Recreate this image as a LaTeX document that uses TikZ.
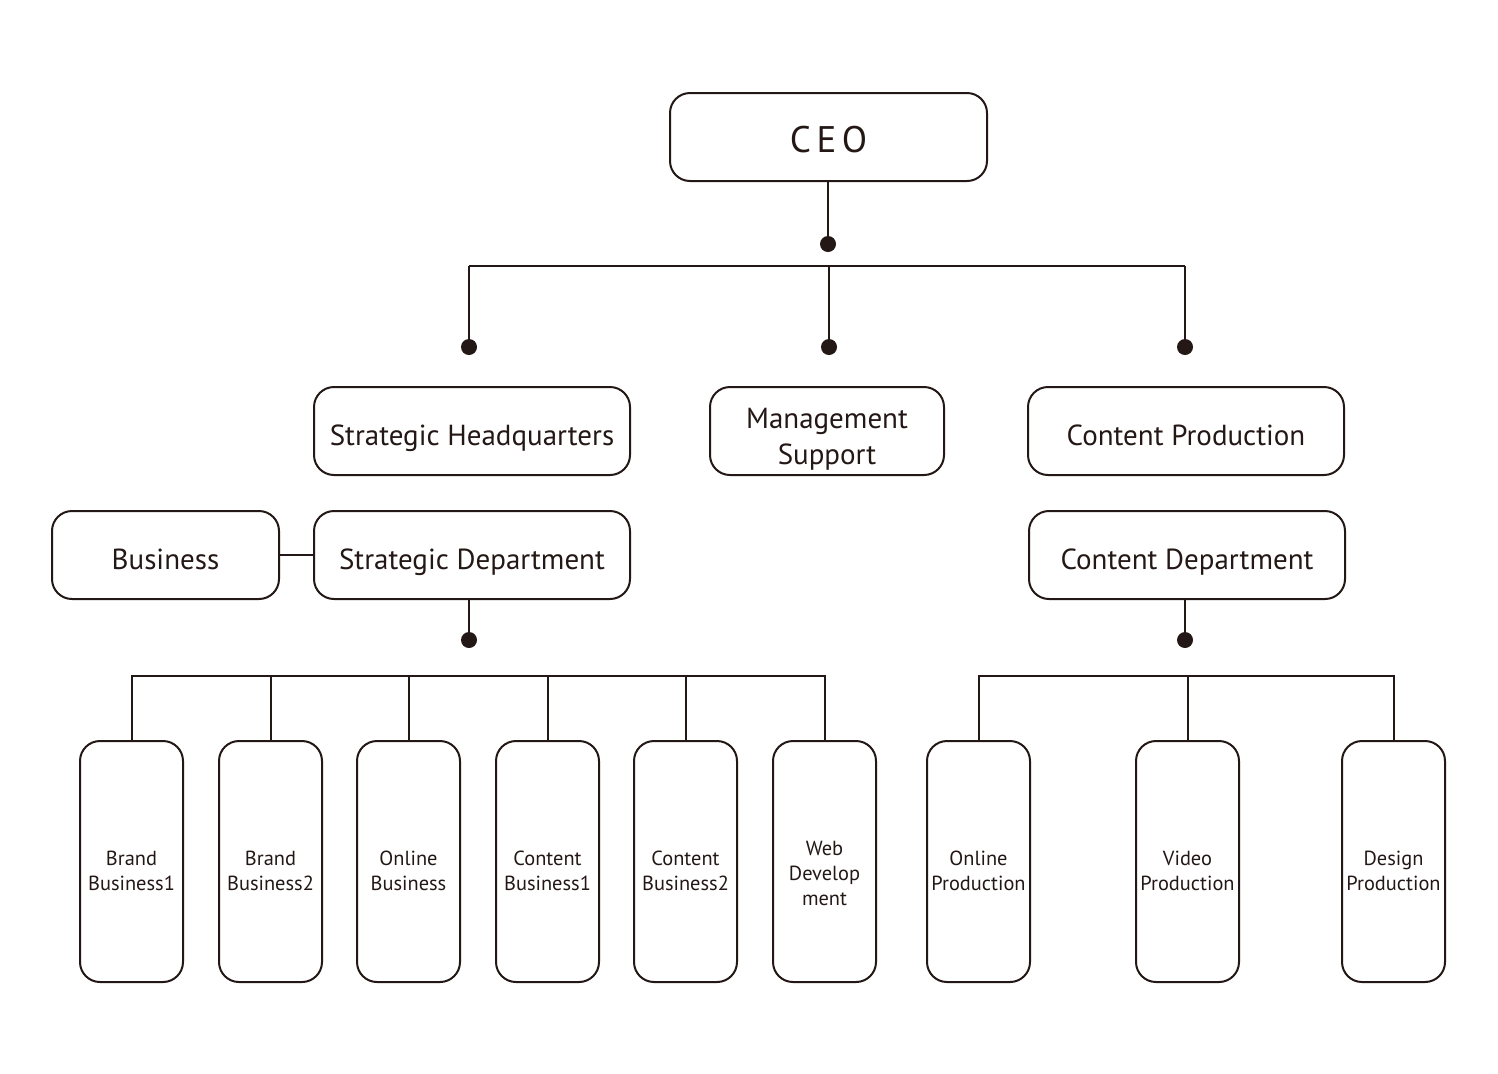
\documentclass[tikz,border=0pt]{standalone}
\usepackage{fontspec}
\setmainfont{PT Sans}
\definecolor{ink}{HTML}{231815}
\begin{document}
\begin{tikzpicture}[x=0.5pt,y=-0.5pt,
  box/.style={draw=ink, line width=1pt, rounded corners=10pt, align=center, inner sep=0pt, text=ink},
  wide/.style={box, minimum width=158pt, minimum height=44pt, font=\fontsize{14.5}{18}\selectfont, text height=16pt, text depth=2pt},
  tall/.style={box, minimum width=51.5pt, minimum height=120.5pt, font=\fontsize{10.2}{12.5}\selectfont, text height=29pt, text depth=0pt},
  tallthree/.style={tall, text height=43.5pt},
  conn/.style={draw=ink, line width=1pt},
  blob/.style={fill=ink, circle, inner sep=0pt, minimum size=8pt}]
\path[use as bounding box] (0,0) rectangle (1498,1073);
% nodes
\node[wide, minimum width=158.5pt, font=\fontsize{18.5}{22}\selectfont\addfontfeatures{LetterSpace=15}, text height=15pt, text depth=0pt] (ceo) at (828.5,137) {CEO};
\node[wide] (sh) at (472,431) {Strategic Headquarters};
\node[wide, minimum width=117pt, text height=36pt, text depth=3pt] (ms) at (827,431) {Management\\Support};
\node[wide] (cp) at (1186,431) {Content Production};
\node[wide, minimum width=113.5pt] (biz) at (165.5,555) {Business};
\node[wide] (sd) at (472,555) {Strategic Department};
\node[wide] (cd) at (1187,555) {Content Department};
\node[tall] (b1) at (131.5,861.5) {Brand\\Business1};
\node[tall] (b2) at (270.5,861.5) {Brand\\Business2};
\node[tall] (b3) at (408.5,861.5) {Online\\Business};
\node[tall] (b4) at (547.5,861.5) {Content\\Business1};
\node[tall] (b5) at (685.5,861.5) {Content\\Business2};
\node[tallthree] (b6) at (824.5,861.5) {Web\\Develop\\ment};
\node[tall] (c1) at (978.5,861.5) {Online\\Production};
\node[tall] (c2) at (1187.5,861.5) {Video\\Production};
\node[tall] (c3) at (1393.5,861.5) {Design\\Production};
% dots
\node[blob] (d0) at (828,244) {};
\node[blob] (d1) at (469,347) {};
\node[blob] (d2) at (829,347) {};
\node[blob] (d3) at (1185,347) {};
\node[blob] (d4) at (469,640) {};
\node[blob] (d5) at (1185,640) {};
\coordinate (j1) at (469,266);
\coordinate (j2) at (829,266);
\coordinate (j3) at (1185,266);
\coordinate (lbus) at (0,676);
% connectors
\draw[conn] (ceo.south -| d0) -- (d0.center);
\draw[conn] (j1) -- (j3);
\draw[conn] (j1) -- (d1.center);
\draw[conn] (j2) -- (d2.center);
\draw[conn] (j3) -- (d3.center);
\draw[conn] (biz.east) -- (sd.west);
\draw[conn] (sd.south -| d4) -- (d4.center);
\draw[conn] (cd.south -| d5) -- (d5.center);
\draw[conn] (b1.north) -- (b1.north |- lbus) -- (b6.north |- lbus) -- (b6.north);
\foreach \n in {b2,b3,b4,b5} \draw[conn] (\n.north) -- (\n.north |- lbus);
\draw[conn] (c1.north) -- (c1.north |- lbus) -- (c3.north |- lbus) -- (c3.north);
\draw[conn] (c2.north) -- (c2.north |- lbus);
\end{tikzpicture}
\end{document}
